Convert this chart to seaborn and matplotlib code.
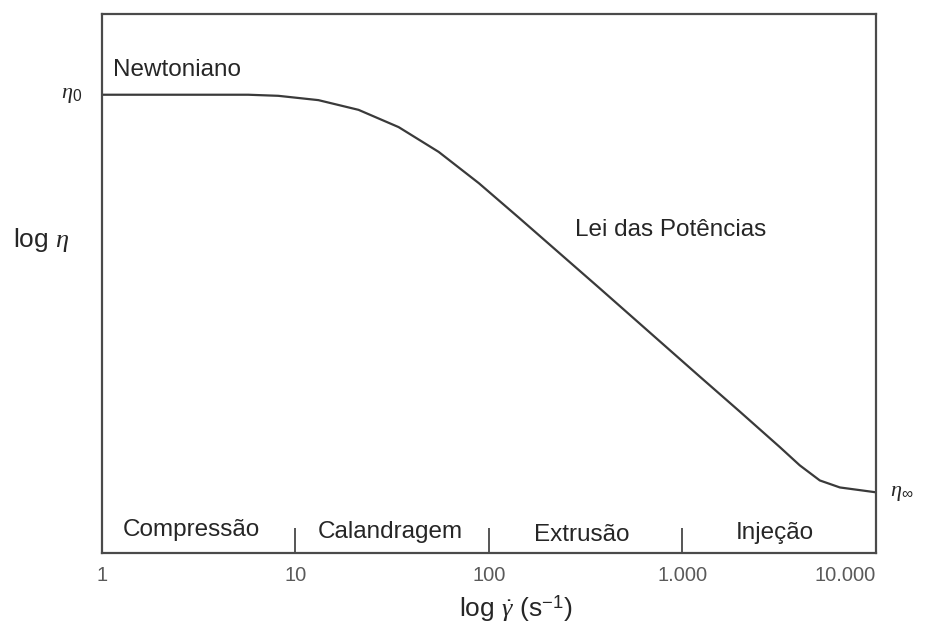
import matplotlib
matplotlib.use('Agg')
import matplotlib.pyplot as plt
import seaborn as sns
import pandas as pd

# curve: shear rate (s^-1) vs relative log viscosity
shear_rate = [1, 1.731, 3.144, 5.707, 8.165, 13.16, 21.21, 34.18, 55.06, 88.79,
              143.0, 371.5, 1225, 1974, 2506, 3182, 4039, 5127, 6509, 8264, 10000]
log_eta = [0.850, 0.850, 0.850, 0.850, 0.848, 0.840, 0.822, 0.790, 0.744, 0.686,
           0.622, 0.492, 0.328, 0.263, 0.230, 0.197, 0.163, 0.135, 0.122, 0.117,
           0.113]

tick_vals = [1, 10, 100, 1000, 10000]
tick_labels = ['1', '10', '100', '1.000', '10.000']

regions = ['Compressão', 'Calandragem', 'Extrusão', 'Injeção']
region_x = [2.89, 31.1, 303.0, 2998.0]
region_y = [0.043, 0.039, 0.033, 0.038]

eta0 = 0.850
eta_inf = 0.113

sns.set_style('white')
plt.rcParams['font.family'] = ['Liberation Sans', 'DejaVu Sans']
plt.rcParams['mathtext.fontset'] = 'custom'
plt.rcParams['mathtext.it'] = 'Liberation Serif:italic'
plt.rcParams['mathtext.rm'] = 'Liberation Sans'

df = pd.DataFrame({'rate': shear_rate, 'eta': log_eta})

fig = plt.figure(figsize=(9.25, 6.28), dpi=100)
ax = fig.add_axes([0.110, 0.119, 0.837, 0.859])
sns.lineplot(data=df, x='rate', y='eta', ax=ax, color='#3a3a3a', linewidth=1.6)

ax.set_xscale('log')
ax.set_xlim(1, 10000)
ax.set_ylim(0, 1)
ax.minorticks_off()

for s in ax.spines.values():
    s.set_color('#4a4a4a')
    s.set_linewidth(1.6)

# x tick labels below, marks only for the inner decades
ax.set_xticks(tick_vals)
ax.set_xticklabels(tick_labels, color='#5a5a5a', fontsize=14.5)
ax.tick_params(axis='x', bottom=True, direction='in', length=18, width=1.4,
               color='#555555', pad=9)
ax.get_xticklabels()[-1].set_ha('right')
for t in ax.xaxis.get_major_ticks()[::4]:
    t.tick1line.set_visible(False)

ax.set_yticks([])
ax.set_xlabel(r'log $\dot{\gamma}$ (s$^{-1}$)', fontsize=19)
ax.xaxis.set_label_coords(0.535, -0.074)
ax.set_ylabel('')

ax.text(-0.025, eta0, r'$\eta_0$', transform=ax.get_yaxis_transform(),
        ha='right', va='center', fontsize=16)
ax.text(1.018, eta_inf, r'$\eta_{\infty}$', transform=ax.get_yaxis_transform(),
        ha='left', va='center', fontsize=16)
ax.text(-0.114, 0.58, r'log $\eta$', transform=ax.transAxes,
        ha='left', va='center', fontsize=19)

ax.text(1.15, 0.896, 'Newtoniano', fontsize=17.5, ha='left', va='center')
ax.text(867, 0.599, 'Lei das Potências', fontsize=17.5, ha='center', va='center')

for name, xpos, ypos in zip(regions, region_x, region_y):
    ax.text(xpos, ypos, name, fontsize=17.5, ha='center', va='center')

fig.savefig('out.png', dpi=100)
